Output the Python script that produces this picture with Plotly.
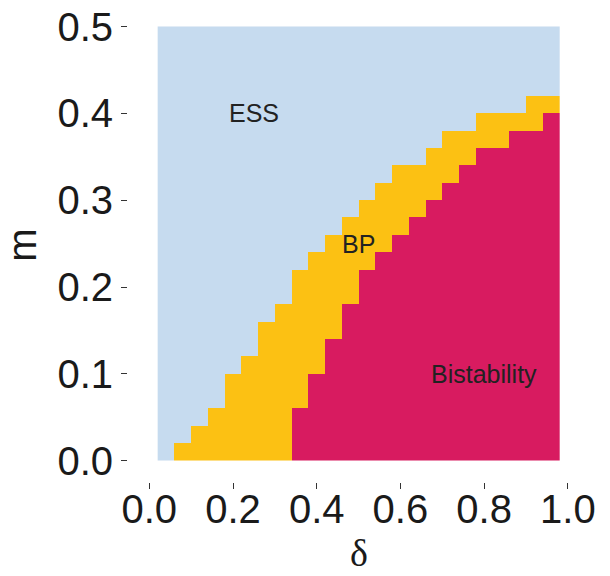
import plotly.graph_objects as go

# Grid of parameter values (cell centres)
delta = [0.04, 0.08, 0.12, 0.16, 0.20, 0.24, 0.28, 0.32, 0.36, 0.40, 0.44, 0.48,
         0.52, 0.56, 0.60, 0.64, 0.68, 0.72, 0.76, 0.80, 0.84, 0.88, 0.92, 0.96]
m = [0.01, 0.03, 0.05, 0.07, 0.09, 0.11, 0.13, 0.15, 0.17, 0.19, 0.21, 0.23, 0.25,
     0.27, 0.29, 0.31, 0.33, 0.35, 0.37, 0.39, 0.41, 0.43, 0.45, 0.47, 0.49]

# Phase boundaries per delta column (m values)
ess_edge = [0.00, 0.02, 0.04, 0.06, 0.10, 0.12, 0.16, 0.18, 0.22, 0.24, 0.26, 0.28,
            0.30, 0.32, 0.34, 0.34, 0.36, 0.38, 0.38, 0.40, 0.40, 0.40, 0.42, 0.42]
bistab_edge = [0.00, 0.00, 0.00, 0.00, 0.00, 0.00, 0.00, 0.00, 0.06, 0.10, 0.14, 0.18,
               0.22, 0.24, 0.26, 0.28, 0.30, 0.32, 0.34, 0.36, 0.36, 0.38, 0.38, 0.40]

regions = ["ESS", "BP", "Bistability"]
region_colors = ["#C6DBEF", "#FCC113", "#D81B60"]
label_x = [0.25, 0.50, 0.80]
label_y = [0.40, 0.25, 0.10]

x_ticks = [0.0, 0.2, 0.4, 0.6, 0.8, 1.0]
y_ticks = [0.0, 0.1, 0.2, 0.3, 0.4, 0.5]
x_title = "δ"
y_title = "m"

z = []
for mj in m:
    row = []
    for i in range(len(delta)):
        if mj > ess_edge[i]:
            row.append(0)
        elif mj < bistab_edge[i]:
            row.append(2)
        else:
            row.append(1)
    z.append(row)

cs = [[0.0, region_colors[0]], [1/3, region_colors[0]],
      [1/3, region_colors[1]], [2/3, region_colors[1]],
      [2/3, region_colors[2]], [1.0, region_colors[2]]]

fig = go.Figure()
fig.add_trace(go.Heatmap(x=delta, y=m, z=z, zmin=-0.5, zmax=2.5, colorscale=cs,
                         showscale=False, hoverinfo="skip", zsmooth=False))

for name, lx, ly in zip(regions, label_x, label_y):
    fig.add_annotation(x=lx, y=ly, text=name, showarrow=False,
                       font=dict(family="Liberation Sans, Arial, sans-serif", size=25, color="#222222"))

# x-axis title (placed as paper annotation so it is not squeezed by the margin)
fig.add_annotation(x=0.5, xref="x", y=-0.1498, yref="paper", text=x_title, showarrow=False,
                   xanchor="center", yanchor="middle", borderpad=0,
                   font=dict(family="Liberation Serif, serif", size=38, color="#1a1a1a"))

axis_font = dict(family="Liberation Sans, Arial, sans-serif", size=40, color="#1a1a1a")
fig.update_layout(
    width=610, height=576,
    margin=dict(l=128, r=20, t=8, b=94),
    paper_bgcolor="white", plot_bgcolor="white",
    showlegend=False,
    xaxis=dict(range=[-0.0509, 1.0530], tickvals=x_ticks, tickformat=".1f",
               showgrid=False, zeroline=False, showline=False,
               ticks="outside", ticklen=6, tickwidth=1, tickcolor="#333333",
               tickfont=axis_font, automargin=False, ticklabelstandoff=-14),
    yaxis=dict(range=[-0.0245, 0.5213], tickvals=y_ticks, tickformat=".1f",
               showgrid=False, zeroline=False, showline=False,
               ticks="outside", ticklen=6, tickwidth=1, tickcolor="#333333",
               tickfont=axis_font, automargin=False, ticklabelstandoff=0,
               title=dict(text=y_title, font=dict(family="Liberation Sans, Arial, sans-serif", size=40, color="#1a1a1a"),
                          standoff=10)),
)

fig.write_html("out.html", config={"displayModeBar": False},
               post_script="document.body.style.margin='0';")
